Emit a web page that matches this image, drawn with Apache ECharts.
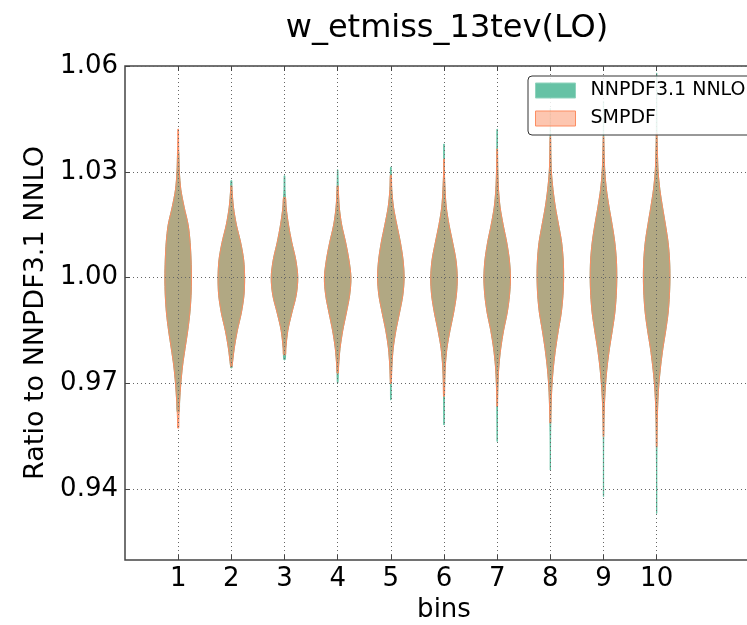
<!DOCTYPE html>
<html><head><meta charset="utf-8">
<script src="https://cdn.jsdelivr.net/npm/echarts@6/dist/echarts.min.js"></script>
<style>html,body{margin:0;padding:0;background:#fff;overflow:hidden}#c{width:800px;height:625px}</style>
</head><body><div id="c"></div>
<script>
const chartTitle = 'w_etmiss_13tev(LO)';
const binLabels = ['1','2','3','4','5','6','7','8','9','10'];
const axisSlots = ['0', ...binLabels, '11', '12'];
const yTicks = [0.94, 0.97, 1.00, 1.03, 1.06];
const seriesNames = ['NNPDF3.1 NNLO', 'SMPDF'];

// y levels at which the (relative) violin density was read
const densityLevels = [0.930,0.935,0.940,0.945,0.950,0.955,0.960,0.965,0.970,0.975,0.980,0.985,0.990,0.995,
  1.000,1.005,1.010,1.015,1.020,1.025,1.030,1.035,1.040,1.045,1.050,1.055,1.060];

// relative density (peak = 1) per bin at densityLevels
const densityBin1  = [0,0,0,0,0.02,0.03,0.05,0.11,0.2,0.33,0.52,0.72,0.88,0.97,1.0,0.97,0.9,0.75,0.45,0.2,0.09,0.05,0.03,0.02,0,0,0];
const densityBin2  = [0,0,0,0,0,0,0,0,0.02,0.06,0.22,0.45,0.75,0.95,1.0,0.93,0.7,0.38,0.16,0.05,0.02,0,0,0,0,0,0];
const densityBin3  = [0,0,0,0,0,0,0,0,0,0.03,0.1,0.25,0.55,0.88,1.0,0.85,0.55,0.3,0.12,0.04,0.02,0,0,0,0,0,0];
const densityBin4  = [0,0,0,0,0,0,0,0,0.02,0.07,0.18,0.38,0.65,0.9,1.0,0.85,0.6,0.3,0.12,0.05,0.02,0.01,0,0,0,0,0];
const densityBin5  = [0,0,0,0,0,0,0.01,0.02,0.03,0.08,0.18,0.38,0.65,0.9,1.0,0.92,0.72,0.45,0.2,0.07,0.03,0.01,0,0,0,0,0];
const densityBin6  = [0,0,0,0,0.01,0.01,0.02,0.03,0.05,0.1,0.22,0.45,0.72,0.93,1.0,0.9,0.65,0.38,0.17,0.08,0.03,0.02,0.01,0,0,0,0];
const densityBin7  = [0,0,0,0.01,0.01,0.01,0.02,0.03,0.06,0.13,0.27,0.48,0.75,0.93,1.0,0.92,0.72,0.45,0.22,0.1,0.05,0.03,0.02,0.01,0,0,0];
const densityBin8  = [0,0,0.01,0.01,0.01,0.02,0.04,0.07,0.13,0.24,0.4,0.6,0.82,0.95,1.0,0.97,0.85,0.62,0.38,0.2,0.08,0.04,0.02,0.01,0.01,0,0];
const densityBin9  = [0,0.01,0.01,0.01,0.01,0.02,0.04,0.08,0.16,0.28,0.45,0.66,0.85,0.96,1.0,0.97,0.85,0.65,0.42,0.22,0.1,0.05,0.02,0.01,0.01,0,0];
const densityBin10 = [0.01,0.01,0.01,0.01,0.02,0.03,0.05,0.09,0.17,0.3,0.47,0.68,0.86,0.96,1.0,0.97,0.86,0.66,0.44,0.24,0.11,0.06,0.03,0.02,0.01,0.01,0.01];
const densityProfiles = [densityBin1,densityBin2,densityBin3,densityBin4,densityBin5,densityBin6,densityBin7,densityBin8,densityBin9,densityBin10];

// extent (min / max of the replicas) per bin
const nnpdfMin = [0.962, 0.9745, 0.9768, 0.9702, 0.9654, 0.9583, 0.9536, 0.9455, 0.938, 0.9332];
const nnpdfMax = [1.0355, 1.0275, 1.0289, 1.0306, 1.0313, 1.0379, 1.0421, 1.048, 1.050, 1.058];
const smpdfMin = [0.9574, 0.9748, 0.9782, 0.973, 0.970, 0.9664, 0.9635, 0.9588, 0.955, 0.952];
const smpdfMax = [1.0421, 1.026, 1.0227, 1.026, 1.029, 1.0336, 1.0365, 1.040, 1.040, 1.041];

const GREEN = '#66c2a5', ORANGE = '#fc8d62';
const FONT = 'DejaVu Sans';
const SPINE = '#444';

function densityAt(prof, y) {
  const n = densityLevels.length;
  if (y <= densityLevels[0]) return prof[0];
  if (y >= densityLevels[n-1]) return prof[n-1];
  for (let k = 0; k < n-1; k++) {
    const a = densityLevels[k], b = densityLevels[k+1];
    if (y >= a && y <= b) { const t = (y-a)/(b-a); return prof[k]*(1-t) + prof[k+1]*t; }
  }
  return 0;
}

function violinRenderer(fill, stroke) {
  return function (params, api) {
    const i = params.dataIndex;
    const xIdx = api.value(0), lo = api.value(1), hi = api.value(2);
    const prof = densityProfiles[i];
    const maxHalf = api.size([1, 0])[0] * 0.25;
    const ys = [lo];
    densityLevels.forEach(l => { if (l > lo + 1e-6 && l < hi - 1e-6) ys.push(l); });
    ys.push(hi);
    const right = ys.map(y => { const p = api.coord([xIdx, y]); return [p[0] + densityAt(prof, y)*maxHalf, p[1]]; });
    const left = ys.slice().reverse().map(y => { const p = api.coord([xIdx, y]); return [p[0] - densityAt(prof, y)*maxHalf, p[1]]; });
    return {
      type: 'polygon',
      shape: { points: right.concat(left), smooth: 0.3 },
      style: { fill: fill, stroke: stroke, lineWidth: 1 }
    };
  };
}

const showBin = (idx) => idx >= 1 && idx <= binLabels.length;

const chart = echarts.init(document.getElementById('c'), null, {renderer: 'canvas'});
chart.setOption({
  animation: false,
  backgroundColor: '#fff',
  title: {
    text: chartTitle, left: 442, top: 8, textAlign: 'center',
    textStyle: { fontSize: 32, fontWeight: 'normal', fontFamily: FONT, color: '#000' }
  },
  legend: {
    orient: 'vertical', left: 528, top: 76,
    padding: [5, 7, 7, 7],
    itemWidth: 40, itemHeight: 15, itemGap: 9,
    backgroundColor: 'rgba(255,255,255,0.85)', borderColor: '#333', borderWidth: 1, borderRadius: 4,
    selectedMode: false,
    textStyle: { fontSize: 19, fontFamily: FONT, color: '#000', padding: [0, 0, 0, 10] },
    data: [
      { name: seriesNames[0], icon: 'rect', itemStyle: { color: GREEN, borderColor: '#8fd3bd', borderWidth: 1 } },
      { name: seriesNames[1], icon: 'rect', itemStyle: { color: 'rgba(252,141,98,0.5)', borderColor: ORANGE, borderWidth: 1 } }
    ]
  },
  grid: {
    left: 125, top: 66, width: 638, height: 494,
    show: true, borderColor: SPINE, borderWidth: 1.5, backgroundColor: 'transparent',
    containLabel: false, outerBoundsMode: 'none'
  },
  xAxis: [{
    type: 'category', data: axisSlots, boundaryGap: false, z: 3,
    axisLine: { show: false },
    axisTick: { show: true, inside: true, length: 5, interval: showBin, lineStyle: { color: SPINE } },
    axisLabel: { interval: showBin, fontSize: 26, fontFamily: FONT, color: '#000', margin: 6 },
    splitLine: { show: true, interval: showBin, lineStyle: { type: [1, 3], color: '#666', width: 1 } },
    name: 'bins', nameLocation: 'middle', nameGap: 36,
    nameTextStyle: { fontSize: 26, fontFamily: FONT, color: '#000' }
  }, {
    type: 'category', data: axisSlots, boundaryGap: false, position: 'top', z: 3,
    axisLine: { show: false },
    axisTick: { show: true, inside: true, length: 5, interval: showBin, lineStyle: { color: SPINE } },
    axisLabel: { show: false },
    splitLine: { show: false }
  }],
  yAxis: {
    type: 'value', min: 0.92, max: 1.06, z: 3,
    axisLine: { show: false },
    axisTick: { show: true, inside: true, length: 5, customValues: yTicks, lineStyle: { color: SPINE } },
    axisLabel: { customValues: yTicks, formatter: v => v.toFixed(2), fontSize: 26, fontFamily: FONT, color: '#000', margin: 7 },
    splitLine: { show: true, lineStyle: { type: [1, 3], color: '#666', width: 1 } },
    name: 'Ratio to NNPDF3.1 NNLO', nameLocation: 'middle', nameGap: 76,
    nameTextStyle: { fontSize: 27, fontFamily: FONT, color: '#000' }
  },
  series: [{
    type: 'custom', name: seriesNames[0], xAxisIndex: 0,
    renderItem: violinRenderer(GREEN, GREEN),
    itemStyle: { color: GREEN },
    encode: { x: 0, y: [1, 2] },
    data: binLabels.map((b, i) => [i + 1, nnpdfMin[i], nnpdfMax[i]]),
    z: 2
  }, {
    type: 'custom', name: seriesNames[1], xAxisIndex: 0,
    renderItem: violinRenderer('rgba(252,141,98,0.5)', ORANGE),
    itemStyle: { color: 'rgba(252,141,98,0.5)' },
    encode: { x: 0, y: [1, 2] },
    data: binLabels.map((b, i) => [i + 1, smpdfMin[i], smpdfMax[i]]),
    z: 2
  }]
});

// hide any stray thin, tall element near the cropped right edge (the reference has no right spine there)
try {
  const zr = chart.getZr();
  zr.storage.getDisplayList(true).forEach(el => {
    const r = el.getBoundingRect().clone();
    const m = el.getComputedTransform && el.getComputedTransform();
    if (m) r.applyTransform(m);
    if (r.width < 30 && r.height > 250 && r.x > 690 && r.x < 760) el.invisible = true;
  });
  zr.refreshImmediately();
} catch (e) {}
</script></body></html>
